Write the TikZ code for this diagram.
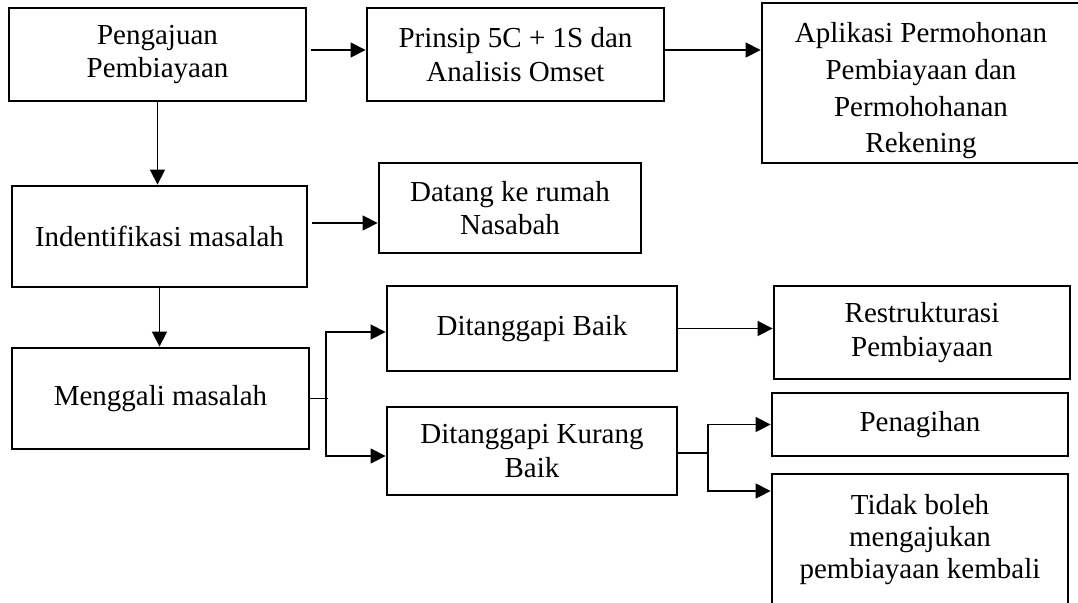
\documentclass[tikz,border=0pt]{standalone}
\usepackage{fontspec}
\setmainfont{Liberation Serif}
\usepackage{tikz}
\usetikzlibrary{arrows.meta,positioning}

\tikzset{
  kotak/.style={draw, line width=1.4pt, align=center, inner sep=2pt,
    font=\fontsize{14.5}{16.8}\selectfont},
  panah/.style={-{Triangle[length=7.5pt,width=7.5pt]}, line width=0.7pt},
}

\begin{document}
\begin{tikzpicture}[x=0.5pt, y=-0.5pt]
    \useasboundingbox (0,0) rectangle (1078,602);

    % baris atas
    \node [kotak, minimum width=148.5pt, minimum height=46.5pt] (pengajuan) at (157.5,54.5) {Pengajuan\\Pembiayaan};
    \node [kotak, minimum width=148.5pt, minimum height=46.5pt] (prinsip) at (515.5,54.5) {Prinsip 5C + 1S dan\\Analisis Omset};
    \node [kotak, minimum width=159pt, minimum height=79pt, font=\fontsize{14.5}{18.3}\selectfont] (aplikasi) at (921,83)
        {\rule{0pt}{18pt}Aplikasi Permohonan\\Pembiayaan dan\\Permohohanan\\Rekening};

    % identifikasi
    \node [kotak, minimum width=147.5pt, minimum height=50.5pt] (identifikasi) at (159.5,236.5) {Indentifikasi masalah};
    \node [kotak, minimum width=131pt, minimum height=45pt] (datang) at (510,208) {Datang ke rumah\\Nasabah};

    % menggali
    \node [kotak, minimum width=148.5pt, minimum height=50.5pt] (menggali) at (160.5,398.5) {Menggali masalah};
    \node [kotak, minimum width=145pt, minimum height=42.5pt] (baik) at (532,328.5) {Ditanggapi Baik};
    \node [kotak, minimum width=145pt, minimum height=44pt] (kurang) at (532,451) {Ditanggapi Kurang\\Baik};
    \node [kotak, minimum width=148pt, minimum height=46.5pt] (restrukturasi) at (922,332.5) {Restrukturasi\\Pembiayaan};
    \node [kotak, minimum width=148pt, minimum height=31.5pt] (penagihan) at (920,424.5) {Penagihan};
    \node [kotak, minimum width=148pt, minimum height=65.5pt, font=\fontsize{14.5}{15.8}\selectfont] (tidak) at (920,539.5)
        {Tidak boleh\\mengajukan\\pembiayaan kembali};

    \coordinate (cabang1) at (326,398.5);
    \coordinate (cabang2) at (708,453);

    \draw [panah] ([shift={(2pt,2.25pt)}]pengajuan.east) -- ([yshift=2.25pt]prinsip.west);
    \draw [panah] ([yshift=2.25pt]prinsip.east) -- ([yshift=2.25pt]prinsip.east -| aplikasi.west);
    \draw [panah] (pengajuan.south) -- (pengajuan.south |- identifikasi.north);
    \draw [panah] ([shift={(2pt,6.75pt)}]identifikasi.east) -- ([yshift=6.75pt]identifikasi.east -| datang.west);
    \draw [panah] (identifikasi.south) -- (identifikasi.south |- menggali.north);

    \draw [line width=0.7pt] (menggali.east) -- ([xshift=1pt]cabang1);
    \draw [panah] (cabang1) |- ([yshift=-1.75pt]baik.west);
    \draw [panah] (cabang1) |- ([yshift=-2.5pt]kurang.west);
    \draw [panah] (baik.east) -- (baik.east -| restrukturasi.west);

    \draw [line width=0.7pt] (kurang.east |- cabang2) -- (cabang2);
    \draw [panah] (cabang2) |- (penagihan.west);
    \draw [panah] (cabang2) |- ([yshift=24.25pt]tidak.west);
\end{tikzpicture}
\end{document}
